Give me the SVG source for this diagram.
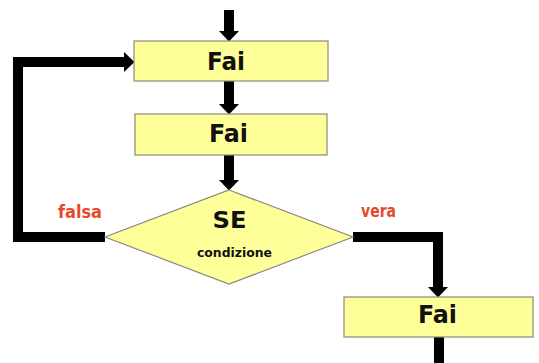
<svg xmlns="http://www.w3.org/2000/svg" width="539" height="363" viewBox="0 0 539 363">
<style>
.box{fill:#ffff99;stroke:#8a8a7a;stroke-width:1.2}
.t{font-family:"DejaVu Sans",Verdana,sans-serif;font-weight:bold;fill:#111;text-anchor:middle}
.lbl{font-family:"DejaVu Sans",Verdana,sans-serif;font-weight:bold;fill:#e4492c;text-anchor:middle;font-size:17px}
.c{fill:none;stroke:#000;stroke-width:10;stroke-linejoin:miter}
</style>
<defs>
<marker id="ah" markerUnits="userSpaceOnUse" markerWidth="11" markerHeight="21" viewBox="0 -10.5 11 21" refX="0.5" refY="0" orient="auto">
<path d="M0,-10.5 L11,0 L0,10.5 Z" fill="#000"/>
</marker>
</defs>
<rect width="539" height="363" fill="#fff"/>
<g id="connectors">
<path class="c" d="M229,10 V31" marker-end="url(#ah)"/>
<path class="c" d="M229,81 V104" marker-end="url(#ah)"/>
<path class="c" d="M229,155 V180" marker-end="url(#ah)"/>
<path class="c" d="M105,237 H18 V62 H124" marker-end="url(#ah)"/>
<path class="c" d="M353,237 H438 V287" marker-end="url(#ah)"/>
<path class="c" d="M439,337 V363"/>
</g>
<g id="fai1">
<rect class="box" x="134" y="41" width="194" height="40"/>
<text class="t" x="226" y="70" font-size="24.5" textLength="38" lengthAdjust="spacingAndGlyphs">Fai</text>
</g>
<g id="fai2">
<rect class="box" x="135" y="114" width="192" height="41"/>
<text class="t" x="228.5" y="142" font-size="24.5" textLength="39" lengthAdjust="spacingAndGlyphs">Fai</text>
</g>
<g id="se">
<polygon class="box" points="229,190 353,237 229,284 105,237"/>
<text class="t" x="229.5" y="228" font-size="23.5" textLength="34" lengthAdjust="spacingAndGlyphs">SE</text>
<text class="t" x="234.5" y="257" font-size="13" textLength="75" lengthAdjust="spacingAndGlyphs">condizione</text>
</g>
<g id="fai3">
<rect class="box" x="344" y="297" width="189" height="40"/>
<text class="t" x="437.5" y="323" font-size="24.5" textLength="39" lengthAdjust="spacingAndGlyphs">Fai</text>
</g>
<g id="labels">
<text class="lbl" x="80" y="218" textLength="44" lengthAdjust="spacingAndGlyphs">falsa</text>
<text class="lbl" x="378.5" y="217" textLength="35" lengthAdjust="spacingAndGlyphs">vera</text>
</g>
</svg>
